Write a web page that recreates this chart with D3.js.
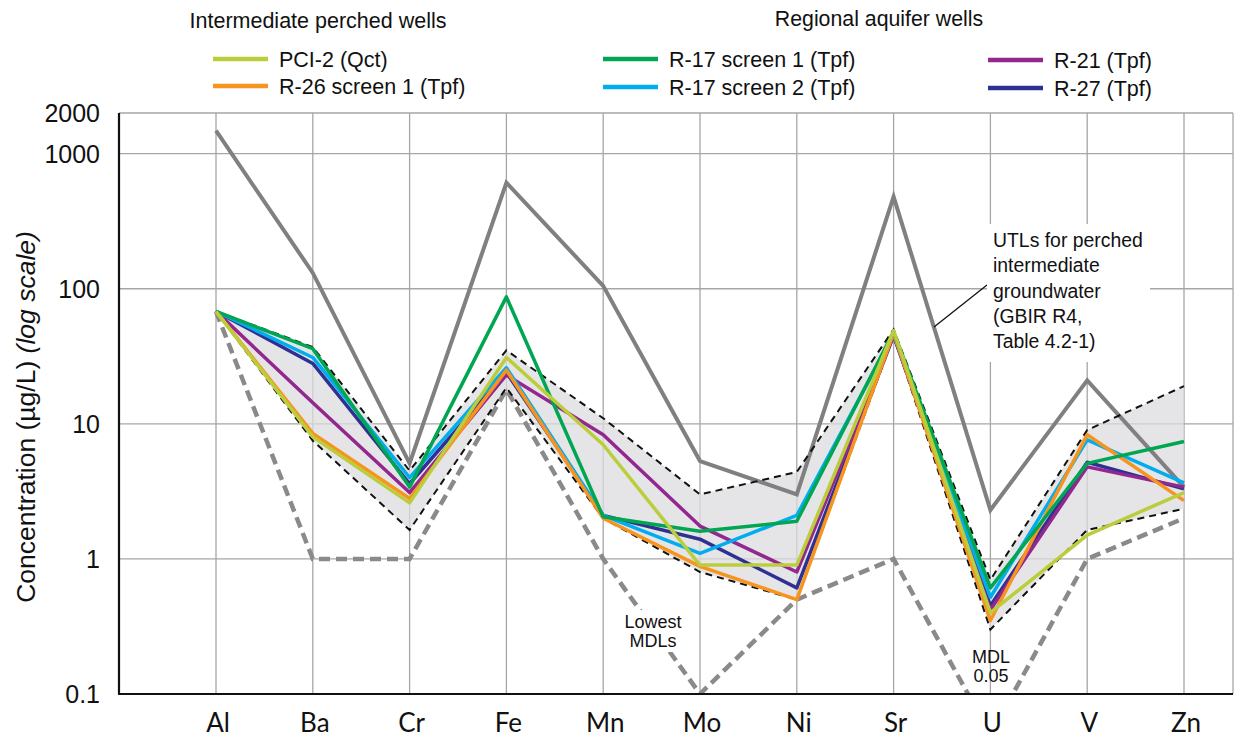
<!DOCTYPE html>
<html>
<head>
<meta charset="utf-8">
<script src="https://cdn.jsdelivr.net/npm/d3@7"></script>
<style>
  body { margin: 0; background: #fff; }
  svg { display: block; }
  text { font-family: "Liberation Sans", Arial, sans-serif; fill: #111; }
</style>
</head>
<body>
<div id="chart"></div>
<script>
// elements on the x axis
const elements = ["Al", "Ba", "Cr", "Fe", "Mn", "Mo", "Ni", "Sr", "U", "V", "Zn"];
const yTicks = [0.1, 1, 10, 100, 1000, 2000];

// well series (µg/L), one value per element
const pci2     = [68, 8.0, 2.6, 31, 7.0, 0.9, 0.9, 49, 0.40, 1.5, 3.1];
const r26s1    = [68, 8.5, 2.8, 25, 2.0, 0.88, 0.5, 47, 0.35, 8.3, 2.7];
const r17s1    = [68, 36, 3.4, 87, 2.05, 1.6, 1.9, 48, 0.61, 5.1, 7.4];
const r17s2    = [68, 31, 4.0, 26, 2.1, 1.1, 2.1, 46, 0.52, 7.6, 3.65];
const r21      = [68, 14.3, 3.1, 23, 8.3, 1.75, 0.8, 45, 0.42, 4.8, 3.4];
const r27      = [68, 28, 3.6, 24, 2.1, 1.4, 0.61, 45, 0.45, 5.2, 3.3];

// reference lines
const utl      = [1480, 131, 5.1, 610, 105, 5.3, 3.0, 480, 2.3, 21, 3.4];
const lowMdl   = [68, 1, 1, 18, 1, 0.1, 0.5, 1, 0.05, 1, 2.0];
const envMax   = [68, 37, 4.5, 35, 11, 3.0, 4.4, 50, 0.7, 9.0, 19];
const envMin   = [68, 7.5, 1.64, 18.5, 2.0, 0.8, 0.5, 45, 0.3, 1.64, 2.35];

const wells = [
  {name: "R-27 (Tpf)", values: r27, color: "#2e3192"},
  {name: "R-21 (Tpf)", values: r21, color: "#92278f"},
  {name: "R-17 screen 2 (Tpf)", values: r17s2, color: "#00aeef"},
  {name: "R-26 screen 1 (Tpf)", values: r26s1, color: "#f7941d"},
  {name: "R-17 screen 1 (Tpf)", values: r17s1, color: "#00a651"},
  {name: "PCI-2 (Qct)", values: pci2, color: "#bccd3c"}
];

const W = 1236, H = 738;
const plot = {left: 119, right: 1233, top: 113, bottom: 694};

const svg = d3.select("#chart").append("svg")
  .attr("width", W).attr("height", H);

const x = d3.scalePoint().domain(elements).range([216, 1184]);
const y = d3.scaleLog().domain([0.1, 2000]).range([plot.bottom, plot.top]);

svg.append("defs").append("clipPath").attr("id", "clip")
  .append("rect")
  .attr("x", plot.left).attr("y", plot.top)
  .attr("width", plot.right - plot.left).attr("height", plot.bottom - plot.top);

// grid
const grid = svg.append("g").attr("stroke", "#a6a6a6").attr("stroke-width", 1.3);
grid.selectAll(".hg").data(yTicks.filter(d => d > 0.1)).enter().append("line")
  .attr("x1", plot.left).attr("x2", plot.right)
  .attr("y1", d => y(d)).attr("y2", d => y(d));
grid.selectAll(".vg").data(elements).enter().append("line")
  .attr("x1", d => x(d)).attr("x2", d => x(d))
  .attr("y1", plot.top).attr("y2", plot.bottom);
grid.append("line")
  .attr("x1", plot.right).attr("x2", plot.right)
  .attr("y1", plot.top).attr("y2", plot.bottom);

const g = svg.append("g").attr("clip-path", "url(#clip)");

// shaded envelope between min and max
const area = d3.area()
  .x((d, i) => x(elements[i]))
  .y0((d, i) => y(envMin[i]))
  .y1(d => y(d));
g.append("path").datum(envMax)
  .attr("d", area)
  .attr("fill", "#dcdcdf")
  .attr("fill-opacity", 0.75);

const line = d3.line().x((d, i) => x(elements[i])).y(d => y(d));

g.append("path").datum(utl)
  .attr("d", line).attr("fill", "none")
  .attr("stroke", "#808080").attr("stroke-width", 4);

g.append("path").datum(lowMdl)
  .attr("d", line).attr("fill", "none")
  .attr("stroke", "#8a8a8a").attr("stroke-width", 4.5)
  .attr("stroke-dasharray", "11,6");

[envMax, envMin].forEach(vals => {
  g.append("path").datum(vals)
    .attr("d", line).attr("fill", "none")
    .attr("stroke", "#111").attr("stroke-width", 2)
    .attr("stroke-dasharray", "7,5");
});

wells.forEach(w => {
  g.append("path").datum(w.values)
    .attr("d", line).attr("fill", "none")
    .attr("stroke", w.color).attr("stroke-width", 3.5)
    .attr("stroke-linejoin", "round");
});

// axes
const axes = svg.append("g").attr("stroke", "#111").attr("stroke-width", 2.2);
axes.append("line").attr("x1", plot.left).attr("x2", plot.left)
  .attr("y1", plot.top).attr("y2", plot.bottom);
axes.append("line").attr("x1", plot.left - 1).attr("x2", plot.right)
  .attr("y1", plot.bottom).attr("y2", plot.bottom);

svg.append("g").selectAll("text").data(yTicks).enter().append("text")
  .attr("x", 100).attr("y", d => y(d))
  .attr("dy", "0.36em")
  .attr("text-anchor", "end")
  .style("font-size", "25px")
  .text(d => d3.format("~g")(d));

svg.append("g").selectAll("text").data(elements).enter().append("text")
  .attr("x", d => x(d) + 2).attr("y", 732)
  .attr("text-anchor", "middle")
  .style("font-family", "Lato, 'Open Sans', sans-serif")
  .style("font-size", "26px")
  .text(d => d);

const yt = svg.append("text")
  .attr("transform", "translate(35,417) rotate(-90)")
  .attr("text-anchor", "middle")
  .style("font-size", "26.5px");
yt.append("tspan").text("Concentration (µg/L) ");
yt.append("tspan").style("font-style", "italic").text("(log scale)");

// annotations
const note = svg.append("g");
note.append("line")
  .attr("x1", 934).attr("y1", 327).attr("x2", 987).attr("y2", 285)
  .attr("stroke", "#111").attr("stroke-width", 1.3);
note.append("rect")
  .attr("x", 987).attr("y", 224).attr("width", 163).attr("height", 138)
  .attr("fill", "#fff");
["UTLs for perched", "intermediate", "groundwater", "(GBIR R4,", "Table 4.2-1)"].forEach((t, i) => {
  note.append("text")
    .attr("x", 993).attr("y", 247 + i * 25.3)
    .style("font-size", "19.4px")
    .text(t);
});

svg.append("rect").attr("x", 620).attr("y", 610).attr("width", 66).attr("height", 42).attr("fill", "#fff");
["Lowest", "MDLs"].forEach((t, i) => {
  svg.append("text")
    .attr("x", 653).attr("y", 628 + i * 19)
    .attr("text-anchor", "middle")
    .style("font-size", "18px")
    .text(t);
});

["MDL", "0.05"].forEach((t, i) => {
  svg.append("text")
    .attr("x", 991).attr("y", 663 + i * 19)
    .attr("text-anchor", "middle")
    .style("font-size", "18px")
    .text(t);
});

// legend
svg.append("text").attr("x", 318).attr("y", 28)
  .attr("text-anchor", "middle").style("font-size", "21.5px")
  .text("Intermediate perched wells");
svg.append("text").attr("x", 879).attr("y", 26)
  .attr("text-anchor", "middle").style("font-size", "21.3px")
  .text("Regional aquifer wells");

const legendItems = [
  {well: wells[5], x: 213, y: 59},
  {well: wells[3], x: 213, y: 86},
  {well: wells[4], x: 603, y: 59},
  {well: wells[2], x: 603, y: 87},
  {well: wells[1], x: 988, y: 60},
  {well: wells[0], x: 988, y: 88}
];
const leg = svg.append("g").selectAll("g").data(legendItems).enter().append("g")
  .attr("transform", d => `translate(${d.x},${d.y})`);
leg.append("line").attr("x1", 0).attr("x2", 55)
  .attr("stroke", d => d.well.color).attr("stroke-width", 4.5);
leg.append("text").attr("x", 66).attr("dy", "0.36em")
  .style("font-size", "21.5px")
  .text(d => d.well.name);
</script>
</body>
</html>
